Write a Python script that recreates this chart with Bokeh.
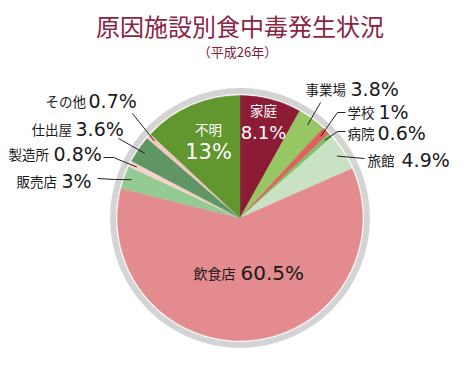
import math
from bokeh.plotting import figure
from bokeh.models import Range1d, ColumnDataSource
from bokeh.core.properties import value
from bokeh.embed import file_html
from bokeh.resources import INLINE

# ---- data ----
categories = ["家庭", "事業場", "学校", "病院", "旅館", "飲食店", "販売店", "製造所", "仕出屋", "その他", "不明"]
percents = [8.1, 3.8, 1, 0.6, 4.9, 60.5, 3, 0.8, 3.6, 0.7, 13]
pct_labels = ["8.1%", "3.8%", "1%", "0.6%", "4.9%", "60.5%", "3%", "0.8%", "3.6%", "0.7%", "13%"]
colors = ["#8c1b36", "#96c764", "#e0605e", "#7fbf6c", "#c9e2c3", "#e48b8f",
          "#94cb93", "#f6d2cd", "#5f9664", "#f3c8c3", "#62962f"]
title = "原因施設別食中毒発生状況"
subtitle = "（平成26年）"

W, H = 455, 375
FONT = "Noto Sans CJK JP"
NFONT = "DejaVu Sans"

def X(sx):
    return sx

def Y(sy):
    return H - sy

p = figure(width=W, height=H, x_range=Range1d(0, W), y_range=Range1d(0, H),
           output_backend="svg", toolbar_location=None,
           x_axis_type=None, y_axis_type=None, min_border=0)
p.outline_line_color = None
p.grid.visible = False
p.background_fill_color = "white"

cx, cy = X(239.5), Y(217.5)
R = 122.5

# angles
starts, ends, mids = [], [], []
cum = 0.0
total = sum(percents)
for v in percents:
    a0 = math.pi / 2 - 2 * math.pi * cum / total
    cum += v
    a1 = math.pi / 2 - 2 * math.pi * cum / total
    starts.append(a0)
    ends.append(a1)
    mids.append((a0 + a1) / 2)

# outer gray ring
p.circle(x=[cx], y=[cy], radius=130, fill_color="#d4d4d4", line_color=None)
p.circle(x=[cx], y=[cy], radius=R + 1.5, fill_color="white", line_color=None)

src = ColumnDataSource(dict(start=starts, end=ends, color=colors))
p.wedge(x=cx, y=cy, radius=R, start_angle="start", end_angle="end",
        direction="clock", fill_color="color", line_color="color", line_width=0.5,
        source=src)

# title
p.text(x=[X(239.5)], y=[Y(25)], text=[title], text_font=value(FONT),
       text_font_size="24px", text_color="#8a2444", text_align="center",
       text_baseline="middle")
p.text(x=[X(237)], y=[Y(51)], text=[subtitle], text_font=value(FONT),
       text_font_size="13px", text_color="#7a2040", text_align="center",
       text_baseline="middle")

# inner labels (white)
inner = {0: ((263, 109), (263, 132), 13.5, 18), 10: ((208, 128), (208, 151), 13.5, 21)}
for i, ((lx, ly), (nx, ny), fs1, fs2) in inner.items():
    p.text(x=[X(lx)], y=[Y(ly)], text=[categories[i]], text_font=value(FONT),
           text_font_size=f"{fs1}px", text_color="white", text_align="center",
           text_baseline="middle")
    p.text(x=[X(nx)], y=[Y(ny)], text=[pct_labels[i]], text_font=value(NFONT),
           text_font_size=f"{fs2}px", text_color="white", text_align="center",
           text_baseline="middle")

# 飲食店 label inside
p.text(x=[X(193)], y=[Y(272)], text=[categories[5]], text_font=value(FONT),
       text_font_size="14px", text_color="#1a1a1a", text_align="left", text_baseline="middle")
p.text(x=[X(240)], y=[Y(272)], text=[pct_labels[5]], text_font=value(NFONT),
       text_font_size="20px", text_color="#1a1a1a", text_align="left", text_baseline="middle")

# outside labels: index -> (label x, number x, y, leader points (outer end first))
outside = {
    1: (305, 350, 88, [(320, 102)]),
    2: (347, 378, 111, [(345, 112), (337, 112)]),
    3: (347, 377, 132, [(345, 131), (337, 131)]),
    4: (367, 401, 159, [(364, 158)]),
    9: (45, 88, 100, [(132, 113)]),
    8: (31, 75, 128, [(118, 138)]),
    7: (8, 53, 153, [(103, 157), (113, 157)]),
    6: (16, 61, 180, [(97, 178), (115, 179)]),
}
r_in = 115
for i, (lx, nx, ly, pts) in outside.items():
    p.text(x=[X(lx)], y=[Y(ly)], text=[categories[i]], text_font=value(FONT),
           text_font_size="13.5px", text_color="#1a1a1a", text_align="left", text_baseline="middle")
    p.text(x=[X(nx)], y=[Y(ly)], text=[pct_labels[i]], text_font=value(NFONT),
           text_font_size="19px", text_color="#1a1a1a", text_align="left", text_baseline="middle")
    xs = [X(a) for a, b in pts] + [cx + r_in * math.cos(mids[i])]
    ys = [Y(b) for a, b in pts] + [cy + r_in * math.sin(mids[i])]
    p.line(x=xs, y=ys, line_color="#222222", line_width=1)

open("out.html", "w").write(file_html(p, INLINE))
